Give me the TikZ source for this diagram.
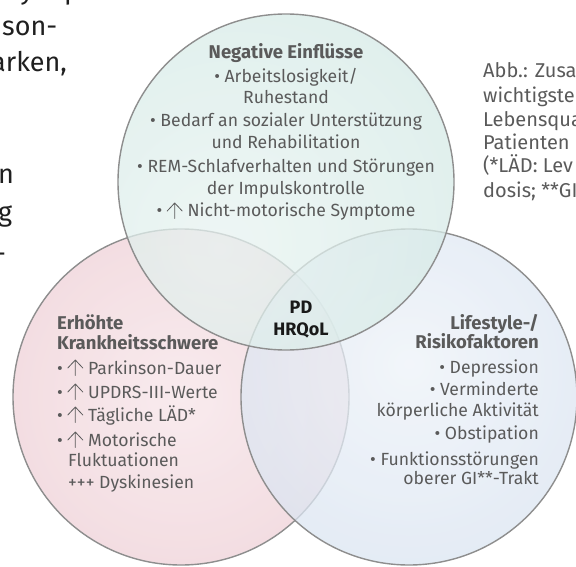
\documentclass[tikz,border=0pt]{standalone}
\usepackage{fontspec}
\setmainfont{Fira Sans}
\definecolor{txt}{HTML}{5A5A5A}
\definecolor{edge}{HTML}{8E8E8E}
\definecolor{topin}{HTML}{E8F3F1}
\definecolor{topout}{HTML}{CBE5E0}
\definecolor{leftin}{HTML}{F6E4E8}
\definecolor{leftout}{HTML}{E6BCC4}
\definecolor{rightin}{HTML}{EDF2F8}
\definecolor{rightout}{HTML}{CAD8EB}
\pgfdeclareradialshading{topshade}{\pgfpoint{-10bp}{-10bp}}{color(0bp)=(topin); color(55bp)=(topout); color(100bp)=(topout)}
\pgfdeclareradialshading{leftshade}{\pgfpoint{0bp}{0bp}}{color(0bp)=(leftin); color(55bp)=(leftout); color(100bp)=(leftout)}
\pgfdeclareradialshading{rightshade}{\pgfpoint{0bp}{5bp}}{color(0bp)=(rightin); color(55bp)=(rightout); color(100bp)=(rightout)}
\newcommand\uparr{\hspace{4.5pt}\tikz[baseline=0pt, x=1pt, y=1pt]\draw[line width=0.8pt, color=txt, line cap=round, line join=round] (0,-1.5)--(0,14) (-7.5,6)--(0,14)--(7.5,6);\hspace{5pt}}
\tikzset{
  venn/.style={circle, minimum size=336pt, inner sep=0pt, draw=edge, line width=1.4pt, fill opacity=0.75, draw opacity=1},
  ln/.style={inner sep=0pt, text=txt, font=\fontsize{17.6}{22}\selectfont},
  hd/.style={inner sep=0pt, text=txt, font=\fontsize{18.5}{22}\selectfont\bfseries},
  captxt/.style={inner sep=0pt, text=txt, anchor=base west, font=\fontsize{20}{23}\selectfont},
  frag/.style={inner sep=0pt, text=black!88, anchor=base west, font=\fontsize{27}{30}\selectfont},
  core/.style={inner sep=0pt, anchor=base, text=black!90, font=\fontsize{18}{22}\selectfont\bfseries},
}
\begin{document}
\begin{tikzpicture}[x=1pt,y=-1pt]
\useasboundingbox (0,0) rectangle (576,567);
\clip (0,0) rectangle (576,567);
% circles
\node[venn, shading=leftshade] (L) at (181,397) {};
\node[venn, shading=rightshade] (R) at (409,397) {};
\node[venn, shading=topshade] (T) at (286,182) {};
% cropped body text at left
\node[frag] (f1) at (20,0) {y};
\node[frag] (f2) at (64,0) {pe};
\node[frag] (f3) at (2,36) {son-};
\node[frag] (f4) at (-9,72) {arken,};
\node[frag] (f5) at (-2,184) {n};
\node[frag] (f6) at (-2,222) {g};
\node[frag] (f7) at (-5,262) {-};
% caption at right
\node[captxt] (c1) at (483,78) {Abb.: Zusa};
\node[captxt] (c2) at (483,103) {wichtigste};
\node[captxt] (c3) at (483,127) {Lebensqua};
\node[captxt] (c4) at (483,150) {Patienten};
\node[captxt] (c5) at (483,173) {(*LÄD: Lev};
\node[captxt] (c6) at (483,197) {dosis; **GI};
% top circle text
\node[hd, anchor=base] (t0) at (286,59) {Negative Einflüsse};
\node[ln, anchor=base] (t1) at (286,83) {• Arbeitslosigkeit/};
\node[ln, anchor=base] (t2) at (286,104) {Ruhestand};
\node[ln, anchor=base] (t3) at (286,127) {• Bedarf an sozialer Unterstützung};
\node[ln, anchor=base] (t4) at (286,149) {und Rehabilitation};
\node[ln, anchor=base] (t5) at (286,172) {• REM-Schlafverhalten und Störungen};
\node[ln, anchor=base] (t6) at (286,194) {der Impulskontrolle};
\node[ln, anchor=base] (t7) at (286,217) {•\uparr Nicht-motorische Symptome};
% left circle text
\node[hd, anchor=base west] (l0) at (57,329) {Erhöhte};
\node[hd, anchor=base west] (l1) at (57,349) {Krankheitsschwere};
\node[ln, anchor=base west] (l2) at (57,374) {•\uparr Parkinson-Dauer};
\node[ln, anchor=base west] (l3) at (57,398) {•\uparr UPDRS-III-Werte};
\node[ln, anchor=base west] (l4) at (57,421) {•\uparr Tägliche LÄD*};
\node[ln, anchor=base west] (l5) at (57,446) {•\uparr Motorische};
\node[ln, anchor=base west] (l6) at (68,466) {Fluktuationen};
\node[ln, anchor=base west] (l7) at (68,488) {+++ Dyskinesien};
% right circle text
\node[hd, anchor=base east] (r0) at (539,329) {Lifestyle-/};
\node[hd, anchor=base east] (r1) at (539,348) {Risikofaktoren};
\node[ln, anchor=base east] (r2) at (539,373) {• Depression};
\node[ln, anchor=base east] (r3) at (539,395) {• Verminderte};
\node[ln, anchor=base east] (r4) at (539,416) {körperliche Aktivität};
\node[ln, anchor=base east] (r5) at (539,439) {• Obstipation};
\node[ln, anchor=base east] (r6) at (539,465) {• Funktionsstörungen};
\node[ln, anchor=base east] (r7) at (539,484) {oberer GI**-Trakt};
% centre
\node[core] (p0) at (301,313) {PD};
\node[core] (p1) at (301,335) {HRQoL};
\end{tikzpicture}
\end{document}
